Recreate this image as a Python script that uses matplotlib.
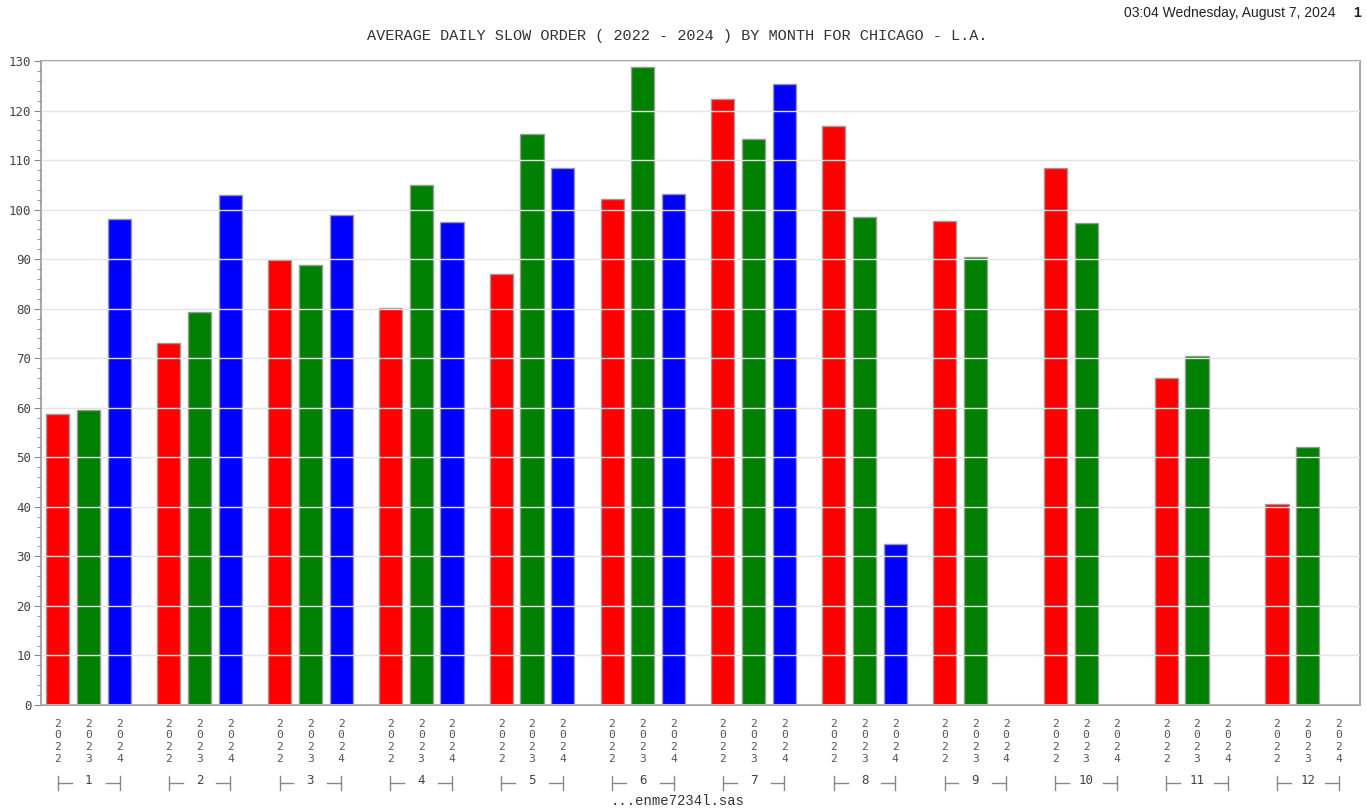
import matplotlib.pyplot as plt
import matplotlib.transforms as mtransforms
from matplotlib.ticker import MultipleLocator

months = ['1', '2', '3', '4', '5', '6', '7', '8', '9', '10', '11', '12']
years = ['2022', '2023', '2024']
v2022 = [58.7, 73.1, 89.8, 80.2, 87.0, 102.1, 122.3, 116.8, 97.7, 108.3, 66.0, 40.6]
v2023 = [59.6, 79.4, 88.9, 105.0, 115.2, 128.7, 114.3, 98.6, 90.5, 97.3, 70.5, 52.0]
v2024 = [98.1, 102.9, 98.9, 97.6, 108.4, 103.1, 125.4, 32.4, None, None, None, None]
colors = ['#ff0000', '#008000', '#0000ff']

fig = plt.figure(figsize=(13.67, 8.08), dpi=100)
ax = fig.add_axes([0.030, 0.1275, 0.965, 0.797])

gstep = 3.6
width = 0.75
xticks, xlabels = [], []
for j, vals in enumerate([v2022, v2023, v2024]):
    for g, v in enumerate(vals):
        x = g * gstep + j
        xticks.append(x)
        xlabels.append('\n'.join(years[j]))
        if v is not None:
            ax.bar(x, v, width=width, color=colors[j], edgecolor='#999999', linewidth=1)

ax.set_xlim(-0.55, 11 * gstep + 2 + 0.7)
ax.set_ylim(0, 130)
ax.yaxis.set_major_locator(MultipleLocator(10))
ax.yaxis.set_minor_locator(MultipleLocator(2))
ax.set_xticks(xticks)
ax.set_xticklabels(xlabels, family='DejaVu Sans Mono', fontsize=8.2, color='#555555',
                   linespacing=1.2)
ax.tick_params(axis='x', length=0, pad=10)
ax.tick_params(axis='y', which='major', length=5, color='#888888', pad=2,
               labelsize=9, labelcolor='#444444')
ax.tick_params(axis='y', which='minor', length=3, color='#888888')
for lab in ax.get_yticklabels():
    lab.set_family('DejaVu Sans Mono')

ax.set_axisbelow(False)
ax.grid(axis='y', which='major', color='#e4e4e4', linewidth=1)
for s in ax.spines.values():
    s.set_color('#a8a8a8')
    s.set_linewidth(1.5)

# month brackets under each group
trans = mtransforms.blended_transform_factory(ax.transData, ax.transAxes)
for g, m in enumerate(months):
    x0 = g * gstep
    x1 = x0 + 2
    yc = -0.121
    yt, yb = -0.111, -0.132
    kw = dict(color='#888888', lw=1, transform=trans, clip_on=False)
    ax.plot([x0, x0], [yt, yb], **kw)
    ax.plot([x0, x0 + 0.45], [yc, yc], **kw)
    ax.plot([x1 - 0.45, x1], [yc, yc], **kw)
    ax.plot([x1, x1], [yt, yb], **kw)
    ax.text(x0 + 1, yc + 0.003, m, transform=trans, ha='center', va='center',
            family='DejaVu Sans Mono', fontsize=9, color='#444444')

fig.text(0.4956, 0.955, 'AVERAGE DAILY SLOW ORDER ( 2022 - 2024 ) BY MONTH FOR CHICAGO - L.A.',
         ha='center', va='center', family='Liberation Mono', fontsize=11, color='#333333')
fig.text(0.977, 0.984, '03:04 Wednesday, August 7, 2024', ha='right', va='center',
         family='Liberation Sans', fontsize=10, color='#222222')
fig.text(0.9955, 0.984, '1', ha='right', va='center',
         family='Liberation Sans', fontsize=10, fontweight='bold', color='#222222')
fig.text(0.4956, 0.0, '...enme7234l.sas', ha='center', va='bottom',
         family='Liberation Mono', fontsize=10, color='#333333')

fig.savefig('out.png', dpi=100)
